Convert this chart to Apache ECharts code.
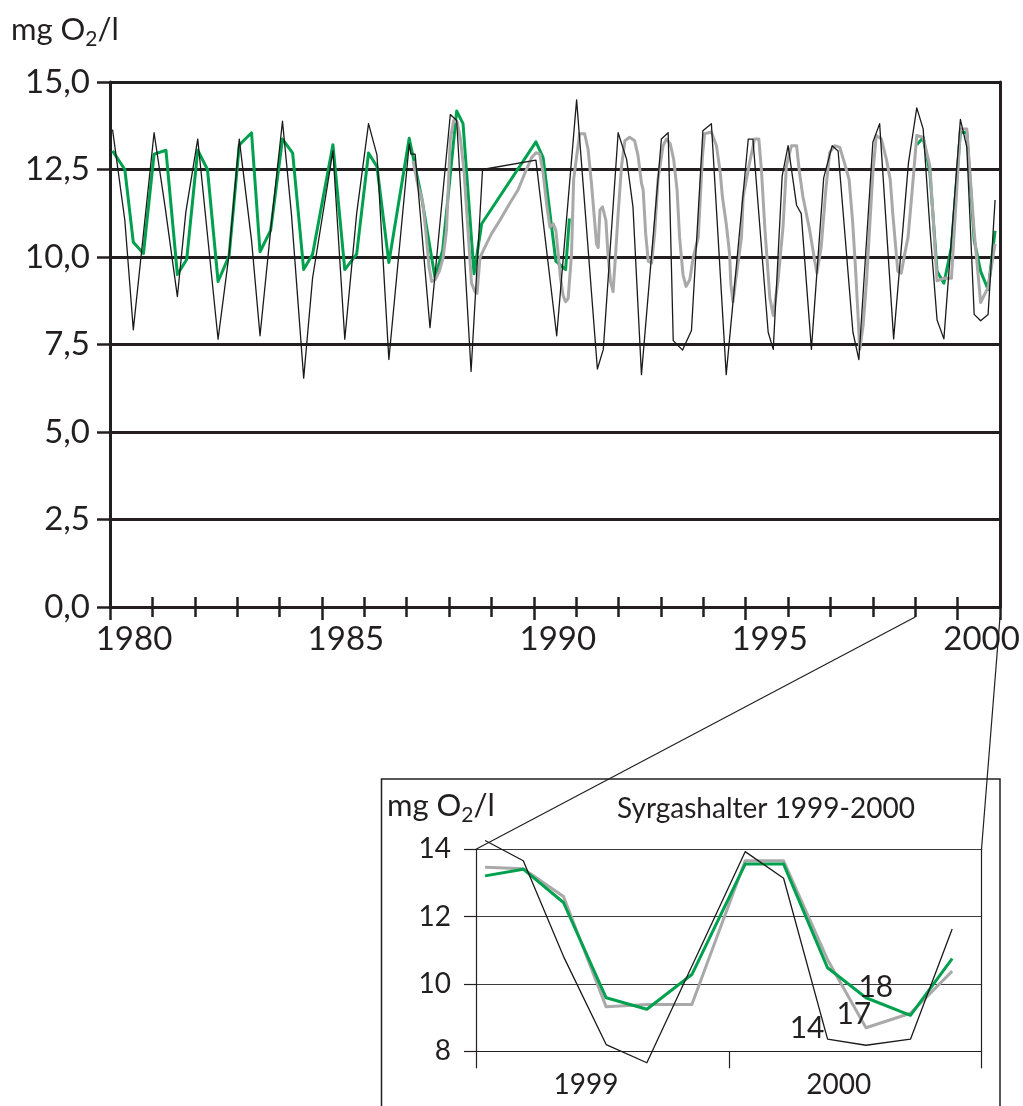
<!DOCTYPE html>
<html>
<head>
<meta charset="utf-8">
<script src="https://cdn.jsdelivr.net/npm/echarts@6/dist/echarts.min.js"></script>
<style>html,body{margin:0;padding:0;background:#fff}#c{width:1023px;height:1106px}</style>
</head>
<body>
<div id="c"></div>
<script>
// ---------- DATA ----------
const mainYTicks = [0, 2.5, 5, 7.5, 10, 12.5, 15];
const mainYearLabels = [1980, 1985, 1990, 1995, 2000];
const insetYearLabels = [1999, 2000];
const insetTags = [['14', 2000.31, 8.68], ['17', 2000.495, 9.09], ['18', 2000.582, 9.91]];

// station 14 (black), 1980-1998
const blackMain = [[1980.06,13.64],[1980.35,11.05],[1980.55,7.92],[1981.04,13.55],[1981.30,11.43],[1981.59,8.87],[1981.79,11.29],[1982.07,13.37],[1982.55,7.65],[1982.81,10.08],[1983.05,13.37],[1983.34,10.47],[1983.54,7.75],[1983.79,10.76],[1984.07,13.88],[1984.28,11.24],[1984.57,6.54],[1984.78,9.40],[1985.26,13.03],[1985.54,7.65],[1985.82,11.24],[1986.10,13.81],[1986.30,12.91],[1986.58,7.07],[1987.06,13.23],[1987.10,12.94],[1987.20,12.94],[1987.55,7.98],[1988.03,14.07],[1988.18,13.90],[1988.52,6.73],[1988.79,12.50],[1990.05,12.77],[1990.54,7.75],[1991.01,14.49],[1991.50,6.80],[1991.64,7.36],[1991.99,13.55],[1992.19,12.79],[1992.34,11.43],[1992.54,6.64],[1993.01,13.37],[1993.17,13.55],[1993.29,7.61],[1993.51,7.34],[1993.72,7.90],[1993.99,13.61],[1994.19,13.81],[1994.54,6.64],[1995.06,13.37],[1995.17,13.37],[1995.53,7.85],[1995.65,7.36],[1995.86,12.31],[1996.00,13.18],[1996.20,11.48],[1996.31,11.24],[1996.55,7.36],[1996.84,12.26],[1997.04,13.18],[1997.18,13.03],[1997.53,7.85],[1997.67,7.07],[1998.00,13.28],[1998.16,13.81],[1998.49,7.66],[1998.84,12.69]];

// station 18 (green), 1980-1990
const greenMain = [[1980.06,13.03],[1980.35,12.50],[1980.55,10.42],[1980.79,10.10],[1981.04,12.94],[1981.32,13.05],[1981.59,9.50],[1981.81,9.93],[1982.07,13.05],[1982.30,12.50],[1982.55,9.30],[1982.81,10.03],[1983.05,13.20],[1983.34,13.55],[1983.54,10.15],[1983.79,10.76],[1984.07,13.37],[1984.31,12.97],[1984.57,9.64],[1984.78,10.08],[1985.26,13.21],[1985.54,9.64],[1985.82,10.08],[1986.10,12.97],[1986.30,12.58],[1986.58,9.84],[1987.06,13.39],[1987.35,11.72],[1987.67,9.40],[1987.85,10.20],[1988.18,14.17],[1988.33,13.81],[1988.59,9.52],[1988.77,10.95],[1990.05,13.29],[1990.22,12.84],[1990.52,9.88],[1990.75,9.64],[1990.84,11.10]];

// station 17 (grey), 1987-1998
const greyMain = [[1987.15,12.74],[1987.27,12.02],[1987.37,11.63],[1987.45,10.76],[1987.53,9.69],[1987.59,9.30],[1987.67,9.35],[1987.77,9.59],[1987.86,9.98],[1987.94,10.76],[1987.98,11.92],[1988.03,13.37],[1988.11,13.90],[1988.19,13.86],[1988.27,13.37],[1988.35,12.50],[1988.41,11.43],[1988.48,10.17],[1988.53,9.25],[1988.61,9.01],[1988.66,8.96],[1988.73,9.98],[1988.84,10.27],[1989.00,10.66],[1989.20,11.05],[1989.43,11.53],[1989.63,11.92],[1989.79,12.40],[1989.95,12.84],[1990.05,12.98],[1990.14,12.94],[1990.22,12.40],[1990.30,11.53],[1990.38,10.85],[1990.46,10.95],[1990.52,10.76],[1990.57,10.17],[1990.63,9.40],[1990.69,8.91],[1990.75,8.72],[1990.81,8.81],[1990.89,10.08],[1990.94,12.21],[1991.08,13.52],[1991.20,13.52],[1991.28,13.08],[1991.36,12.11],[1991.42,11.24],[1991.48,10.37],[1991.52,10.27],[1991.56,11.34],[1991.62,11.43],[1991.70,11.05],[1991.75,10.08],[1991.81,9.30],[1991.87,9.01],[1991.93,10.08],[1991.99,11.24],[1992.07,12.60],[1992.15,13.32],[1992.26,13.42],[1992.38,13.32],[1992.46,12.89],[1992.54,12.11],[1992.58,11.92],[1992.64,10.66],[1992.70,9.88],[1992.78,9.83],[1992.85,10.66],[1992.93,12.21],[1993.05,13.18],[1993.13,13.37],[1993.22,13.23],[1993.30,12.79],[1993.38,11.92],[1993.44,10.56],[1993.52,9.50],[1993.59,9.16],[1993.68,9.35],[1993.76,9.98],[1993.88,10.56],[1993.98,12.89],[1994.03,13.52],[1994.19,13.57],[1994.31,13.18],[1994.40,12.40],[1994.45,11.72],[1994.54,10.95],[1994.62,10.08],[1994.65,9.21],[1994.70,8.72],[1994.76,9.30],[1994.90,10.56],[1994.94,11.72],[1995.09,12.69],[1995.21,13.37],[1995.31,13.37],[1995.37,12.50],[1995.45,10.85],[1995.53,9.50],[1995.57,8.82],[1995.65,8.33],[1995.76,9.30],[1995.88,10.85],[1995.96,12.60],[1996.08,13.18],[1996.20,13.18],[1996.27,12.40],[1996.35,11.72],[1996.51,10.76],[1996.63,9.88],[1996.68,9.54],[1996.78,10.27],[1996.89,11.92],[1996.98,12.98],[1997.10,13.18],[1997.22,13.13],[1997.33,12.69],[1997.44,12.21],[1997.52,11.05],[1997.59,9.69],[1997.65,8.33],[1997.69,7.36],[1997.77,8.04],[1997.85,9.30],[1997.92,10.76],[1998.00,12.40],[1998.08,13.47],[1998.20,13.37],[1998.32,12.79],[1998.41,12.21],[1998.47,11.24],[1998.54,10.27],[1998.59,9.59],[1998.67,9.54],[1998.75,10.08],[1998.83,10.56],[1998.88,11.24],[1998.95,12.21]];

// 1999-2000 (shown in both charts)
const black9900 = [[1999.036,14.26],[1999.187,13.66],[1999.346,10.82],[1999.515,8.20],[1999.676,7.66],[2000.065,13.93],[2000.217,13.14],[2000.391,8.36],[2000.543,8.18],[2000.719,8.36],[2000.884,11.63]];
const green9900 = [[1999.036,13.21],[1999.187,13.41],[1999.346,12.42],[1999.515,9.59],[1999.676,9.25],[1999.854,10.28],[2000.065,13.56],[2000.217,13.56],[2000.391,10.48],[2000.543,9.59],[2000.719,9.07],[2000.884,10.75]];
const grey9900 = [[1999.036,13.47],[1999.187,13.42],[1999.346,12.60],[1999.515,9.32],[1999.676,9.39],[1999.854,9.39],[2000.065,13.66],[2000.217,13.66],[2000.391,10.72],[2000.543,8.70],[2000.719,9.13],[2000.884,10.38]];

// ---------- STYLE ----------
const INK = '#231f20';
const GREEN = '#00a14e';
const GREY = '#a9a9aa';
const BLACK = '#1a1a1a';
const FONT = 'Lato';

const chart = echarts.init(document.getElementById('c'), null, {renderer: 'canvas'});

function line(data, color, width, xi, yi, z) {
  return {type: 'line', data: data, xAxisIndex: xi, yAxisIndex: yi, showSymbol: false, symbol: 'none',
    lineStyle: {color: color, width: width, join: 'round'}, z: z, animation: false, silent: true, clip: false};
}

const o2Rich = {
  base: {fontSize: 31, fontFamily: FONT, fontWeight: 'normal', color: INK, lineHeight: 40},
  sub: {fontSize: 21, fontFamily: FONT, fontWeight: 'normal', color: INK, lineHeight: 21, verticalAlign: 'bottom'}
};

const option = {
  animation: false,
  backgroundColor: '#fff',
  title: [
    {text: '{base|mg O}{sub|2}{base|/l}', left: 11, top: 10, padding: 0,
     textStyle: {fontWeight: 'normal', fontFamily: FONT, rich: o2Rich}},
    {text: '{base|mg O}{sub|2}{base|/l}', left: 387, top: 786, padding: 0,
     textStyle: {fontWeight: 'normal', fontFamily: FONT, rich: o2Rich}},
    {text: 'Syrgashalter 1999-2000', left: 617, top: 795, padding: 0,
     textStyle: {fontSize: 28, fontWeight: 'normal', fontFamily: FONT, color: INK}}
  ],
  grid: [
    {left: 110, right: 23, top: 82, bottom: 499, containLabel: false},
    {left: 476, right: 41.5, top: 849.3, bottom: 54.7, containLabel: false}
  ],
  xAxis: [
    {type: 'value', gridIndex: 0, min: 1980, max: 2001, interval: 1, position: 'bottom',
     axisLine: {show: true, lineStyle: {color: INK, width: 3}},
     axisTick: {show: true, inside: true, length: 10, lineStyle: {color: INK, width: 2.5}},
     axisLabel: {show: false}, splitLine: {show: false}},
    {type: 'value', gridIndex: 0, min: 1980, max: 2001, interval: 1, position: 'bottom',
     axisLine: {show: false},
     axisTick: {show: true, inside: false, length: 10, lineStyle: {color: INK, width: 2.5}},
     axisLabel: {show: false}, splitLine: {show: false}},
    {type: 'value', gridIndex: 0, min: 1980, max: 2001, interval: 5, position: 'bottom',
     axisLine: {show: false},
     axisTick: {show: true, inside: false, length: 13, lineStyle: {color: INK, width: 2.5}},
     axisLabel: {show: true, margin: 16, fontSize: 33, fontFamily: FONT, color: INK, padding: [0, 0, 0, 48],
       formatter: v => mainYearLabels.indexOf(v) >= 0 ? String(v) : ''},
     splitLine: {show: false}},
    {type: 'value', gridIndex: 1, min: 1999, max: 2001, interval: 1, position: 'bottom',
     axisLine: {show: true, lineStyle: {color: INK, width: 1.2}},
     axisTick: {show: true, inside: false, length: 17, lineStyle: {color: INK, width: 1.2}},
     axisLabel: {show: true, margin: 20, fontSize: 28, fontFamily: FONT, color: INK, padding: [0, 0, 0, 220],
       formatter: v => insetYearLabels.indexOf(v) >= 0 ? String(v) : ''},
     splitLine: {show: false}}
  ],
  yAxis: [
    {type: 'value', gridIndex: 0, min: 0, max: 15, interval: 2.5, position: 'left',
     axisLine: {show: true, lineStyle: {color: INK, width: 3}},
     axisTick: {show: true, inside: false, length: 13, lineStyle: {color: INK, width: 2.5}},
     axisLabel: {show: true, margin: 20, fontSize: 33, fontFamily: FONT, color: INK,
       formatter: v => mainYTicks.indexOf(v) >= 0 ? v.toFixed(1).replace('.', ',') : ''},
     splitLine: {show: true, lineStyle: {color: INK, width: 3}}},
    {type: 'value', gridIndex: 0, min: 0, max: 15, interval: 2.5, position: 'right',
     axisLine: {show: true, lineStyle: {color: INK, width: 3}},
     axisTick: {show: false}, axisLabel: {show: false}, splitLine: {show: false}},
    {type: 'value', gridIndex: 1, min: 8, max: 14, interval: 2, position: 'left',
     axisLine: {show: true, lineStyle: {color: INK, width: 1.2}},
     axisTick: {show: true, inside: false, length: 12, lineStyle: {color: INK, width: 1.2}},
     axisLabel: {show: true, margin: 25, fontSize: 28, fontFamily: FONT, color: INK},
     splitLine: {show: true, lineStyle: {color: '#3b3b3b', width: 1.2}}},
    {type: 'value', gridIndex: 1, min: 8, max: 14, interval: 2, position: 'right',
     axisLine: {show: true, lineStyle: {color: INK, width: 1.2}},
     axisTick: {show: false}, axisLabel: {show: false}, splitLine: {show: false}}
  ],
  series: [
    line(greenMain, GREEN, 3, 0, 0, 2),
    line(green9900, GREEN, 3, 0, 0, 2),
    line(greyMain.concat(grey9900), GREY, 3, 0, 0, 3),
    line(blackMain.concat(black9900), BLACK, 1.3, 0, 0, 4),
    line(grey9900, GREY, 3, 3, 2, 2),
    line(green9900, GREEN, 3, 3, 2, 3),
    Object.assign(line(black9900, BLACK, 1.3, 3, 2, 4), {
      markPoint: {symbol: 'circle', symbolSize: 0, silent: true, animation: false,
        label: {show: true, position: 'inside', fontSize: 30, fontFamily: FONT, color: INK,
          formatter: p => p.name},
        data: insetTags.map(t => ({name: t[0], coord: [t[1], t[2]]}))}
    })
  ]
};
chart.setOption(option);

// frame of the inset and zoom connector lines, placed through the axes
const p1 = chart.convertToPixel({xAxisIndex: 0, yAxisIndex: 0}, [1999, 0]);
const q1 = chart.convertToPixel({xAxisIndex: 3, yAxisIndex: 2}, [1999, 14]);
const p2 = chart.convertToPixel({xAxisIndex: 0, yAxisIndex: 0}, [2001, 0]);
const q2 = chart.convertToPixel({xAxisIndex: 3, yAxisIndex: 2}, [2001, 14]);
chart.setOption({
  graphic: [
    {type: 'rect', shape: {x: 381.5, y: 779, width: 618.5, height: 400}, style: {fill: 'none', stroke: INK, lineWidth: 1.5}, z: 1, silent: true},
    {type: 'line', shape: {x1: p1[0], y1: p1[1] + 10, x2: q1[0], y2: q1[1]}, style: {stroke: INK, lineWidth: 1.2}, z: 5, silent: true},
    {type: 'line', shape: {x1: p2[0], y1: p2[1] + 10, x2: q2[0], y2: q2[1]}, style: {stroke: INK, lineWidth: 1.2}, z: 5, silent: true}
  ]
});
</script>
</body>
</html>
